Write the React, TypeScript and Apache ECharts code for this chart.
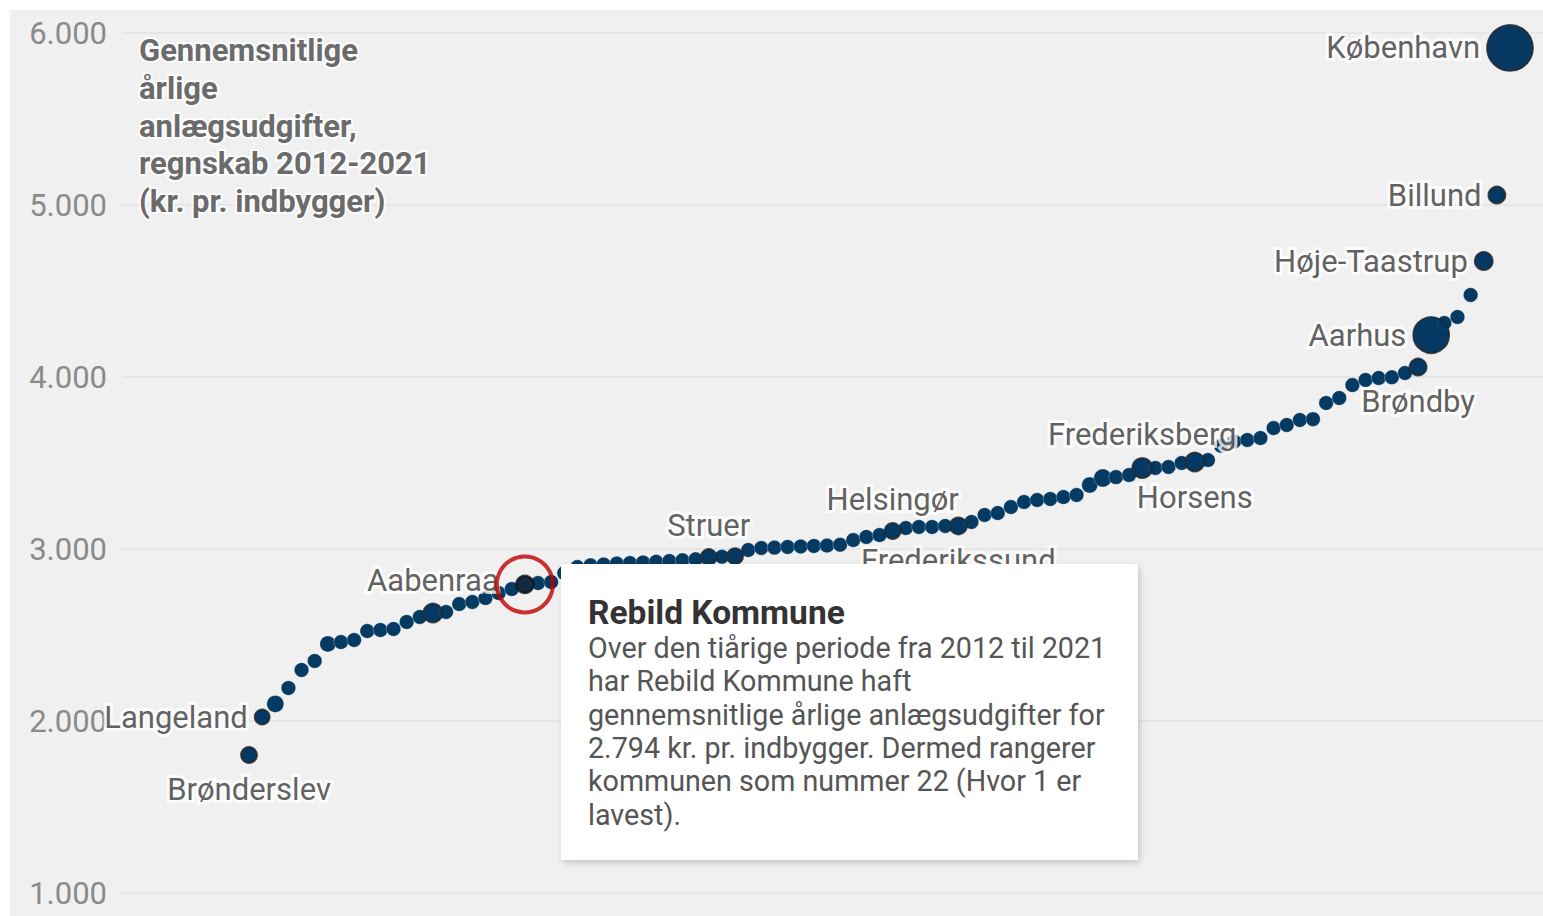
import React, { useEffect, useRef } from "react";
import * as echarts from "echarts";

// Municipal ranking (1 = lowest) of average yearly construction expenditure 2012-2021, kr. per inhabitant
const values: number[] = [
  1802, 2023, 2099, 2192, 2297, 2349, 2448, 2459, 2471, 2523,
  2529, 2535, 2576, 2605, 2628, 2634, 2680, 2692, 2715, 2744,
  2767, 2794, 2802, 2808, 2860, 2895, 2905, 2910, 2915, 2918,
  2922, 2926, 2930, 2935, 2940, 2953, 2955, 2958, 2994, 3006,
  3008, 3012, 3015, 3018, 3020, 3025, 3052, 3070, 3081, 3105,
  3122, 3128, 3128, 3134, 3134, 3157, 3198, 3209, 3244, 3273,
  3285, 3291, 3302, 3314, 3372, 3413, 3418, 3430, 3471, 3471,
  3477, 3500, 3506, 3517, 3600, 3625, 3634, 3645, 3703, 3721,
  3750, 3755, 3849, 3878, 3953, 3983, 3994, 3998, 4023, 4058,
  4244, 4314, 4349, 4477, 4674, 5058, 5913,
];

const labelRanks: number[] = [1, 2, 15, 22, 36, 38, 50, 55, 69, 73, 90, 91, 95, 96, 97];
const labelNames: string[] = [
  "Brønderslev", "Langeland", "Aabenraa", "Rebild", "Struer", "", "Helsingør",
  "Frederikssund", "Frederiksberg", "Horsens", "Brøndby", "Aarhus",
  "Høje-Taastrup", "Billund", "København",
];
const highlightRank = 22;
const highlightName = "Rebild Kommune";

const yTicks: number[] = [1000, 2000, 3000, 4000, 5000, 6000];

const titleLines: string[] = [
  "Gennemsnitlige",
  "årlige",
  "anlægsudgifter,",
  "regnskab 2012-2021",
  "(kr. pr. indbygger)",
];

// ---- styling (not data) ----
const labelPlacement: Record<string, string> = {
  "Brønderslev": "bottom",
  "Langeland": "left",
  "Aabenraa": "top",
  "Struer": "top",
  "Helsingør": "top",
  "Frederikssund": "bottom",
  "Frederiksberg": "top",
  "Horsens": "bottom",
  "Brøndby": "bottom",
  "Aarhus": "left",
  "Høje-Taastrup": "left",
  "Billund": "left",
  "København": "left",
};
const sizeByRank: Record<number, number> = {
  1: 16, 2: 15, 3: 17, 7: 16, 15: 19, 22: 17, 36: 16, 38: 16, 50: 16, 55: 17,
  65: 16, 66: 18, 69: 20, 73: 19, 90: 17, 91: 36, 95: 18, 96: 17, 97: 46,
};
const DOT = "#053a63";
const FONT = "Roboto, 'Noto Sans', sans-serif";

const fmt = (v: number) => String(Math.round(v)).replace(/\B(?=(\d{3})+(?!\d))/g, ".");

export default function App() {
  const ref = useRef<HTMLDivElement>(null);

  useEffect(() => {
    if (!ref.current) return;
    const chart = echarts.init(ref.current, undefined, { renderer: "svg" });

    const allData = values.map((v, i) => [i + 1, v]);
    const sizeOf = (rank: number) => sizeByRank[rank] ?? 14.5;

    const labeled = labelRanks.map((r, i) => {
      const name = labelNames[i];
      const pos = labelPlacement[name];
      const isHi = r === highlightRank;
      return {
        name,
        value: [r, values[r - 1]],
        symbolSize: sizeOf(r),
        itemStyle: isHi
          ? { color: "#14283a", borderColor: "#111", borderWidth: 2.5 }
          : { color: DOT, borderColor: "#262626", borderWidth: 1.8 },
        label: {
          show: !!name && !!pos,
          position: pos || "top",
          distance: pos === "left" ? 6 : pos === "bottom" ? 10 : 7,
          formatter: "{b}",
        },
      };
    });

    const hiValue = values[highlightRank - 1];
    const bodyLines = [
      "Over den tiårige periode fra 2012 til 2021",
      `har ${highlightName} haft`,
      "gennemsnitlige årlige anlægsudgifter for",
      `${fmt(hiValue)} kr. pr. indbygger. Dermed rangerer`,
      `kommunen som nummer ${highlightRank} (Hvor 1 er`,
      "lavest).",
    ];

    chart.setOption({
      animation: false,
      backgroundColor: "#f0f0f0",
      grid: { left: 112, right: 0, top: 23, bottom: 23, containLabel: false },
      xAxis: {
        type: "value",
        min: -8.67,
        max: 99.51,
        show: false,
        splitLine: { show: false },
      },
      yAxis: {
        type: "value",
        min: yTicks[0],
        max: yTicks[yTicks.length - 1],
        interval: 1000,
        axisLine: { show: false },
        axisTick: { show: false },
        splitLine: { lineStyle: { color: "#e3e3e3", width: 1.5 } },
        axisLabel: {
          margin: 15,
          color: "#8a8a8a",
          fontSize: 31,
          fontFamily: FONT,
          formatter: (v: number) => fmt(v),
        },
      },
      series: [
        {
          type: "scatter",
          z: 2,
          data: allData,
          symbolSize: (val: number[]) => sizeOf(val[0]),
          itemStyle: { color: DOT, borderColor: "rgba(255,255,255,0.35)", borderWidth: 0.8, opacity: 1 },
          emphasis: { disabled: true },
        },
        {
          type: "scatter",
          z: 3,
          data: labeled,
          label: {
            color: "#383838",
            fontSize: 31,
            fontFamily: FONT,
            textBorderColor: "#ffffff",
            textBorderWidth: 6,
          },
          emphasis: { disabled: true },
        },
        {
          type: "scatter",
          z: 4,
          data: [[highlightRank, hiValue]],
          symbolSize: 56,
          itemStyle: { color: "rgba(0,0,0,0)", borderColor: "#c00000", borderWidth: 4 },
          emphasis: { disabled: true },
        },
      ],
      graphic: [
        {
          type: "text",
          left: 127,
          top: 22,
          z: 50,
          style: {
            text: titleLines.join("\n"),
            font: `bold 31px ${FONT}`,
            lineHeight: 37.7,
            fill: "#6b6b6b",
            stroke: "rgba(255,255,255,0.9)",
            lineWidth: 4,
          },
        },
        {
          type: "group",
          z: 100,
          children: [
            {
              type: "rect",
              z: 100,
              shape: { x: 551, y: 554, width: 577, height: 296 },
              style: {
                fill: "#ffffff",
                shadowBlur: 6,
                shadowOffsetX: 2,
                shadowOffsetY: 3,
                shadowColor: "rgba(0,0,0,0.18)",
              },
            },
            {
              type: "text",
              z: 101,
              x: 578,
              y: 602,
              style: {
                text: highlightName,
                font: `bold 33.5px ${FONT}`,
                fill: "#333",
                verticalAlign: "middle",
              },
            },
            {
              type: "text",
              z: 101,
              x: 578,
              y: 621,
              style: {
                text: bodyLines.join("\n"),
                font: `28.7px ${FONT}`,
                lineHeight: 33.4,
                fill: "#555",
                verticalAlign: "top",
              },
            },
          ],
        },
      ],
    });

    return () => chart.dispose();
  }, []);

  return (
    <div style={{ position: "fixed", left: 0, top: 0, width: 1543, height: 916, background: "#fff" }}>
      <div
        ref={ref}
        style={{ position: "absolute", left: 10, top: 10, width: 1533, height: 906 }}
      />
    </div>
  );
}
